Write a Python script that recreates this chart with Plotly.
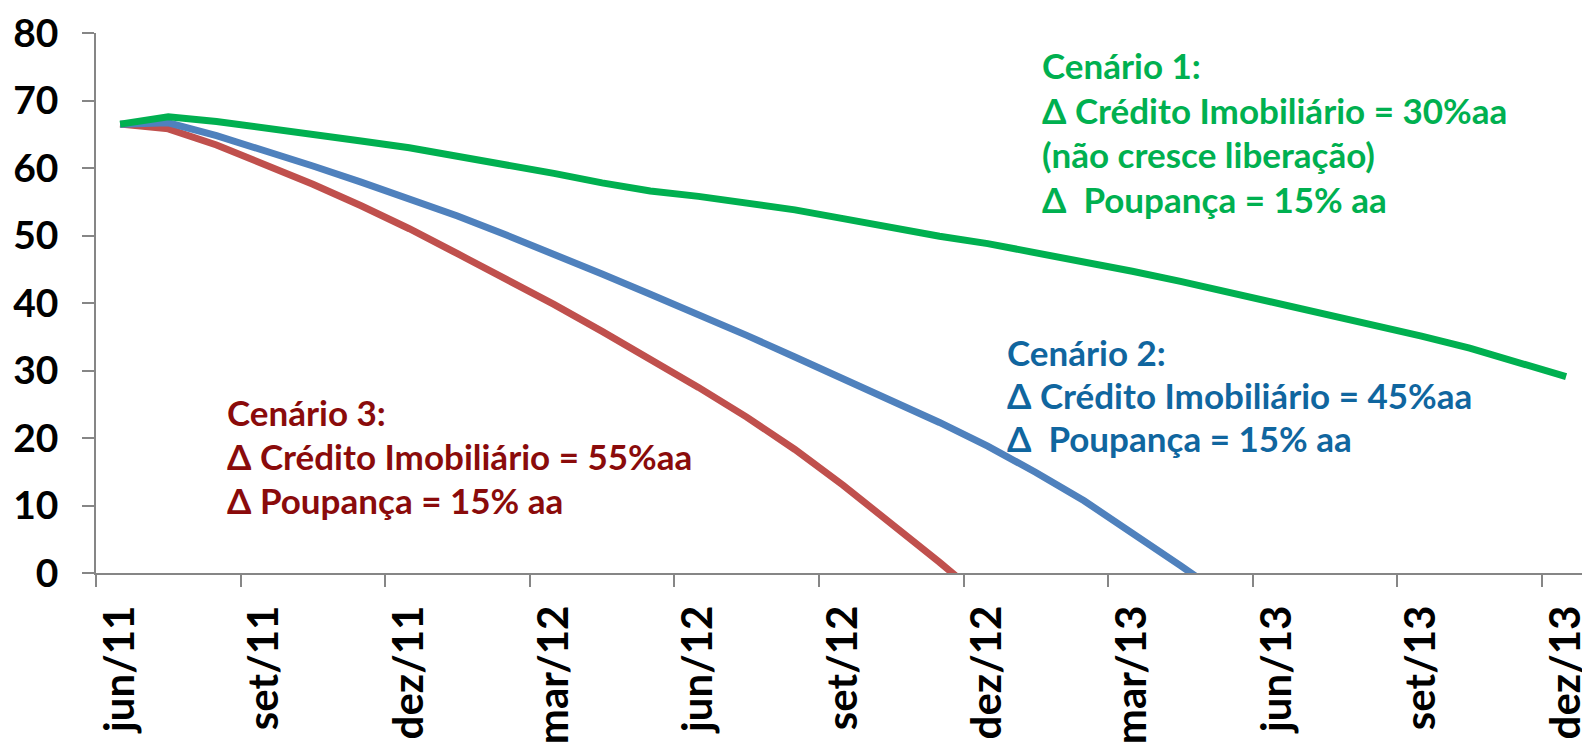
import plotly.graph_objects as go

# Monthly categories, jun/11 .. dez/13
months = ["jun/11", "jul/11", "ago/11", "set/11", "out/11", "nov/11", "dez/11",
          "jan/12", "fev/12", "mar/12", "abr/12", "mai/12", "jun/12", "jul/12",
          "ago/12", "set/12", "out/12", "nov/12", "dez/12", "jan/13", "fev/13",
          "mar/13", "abr/13", "mai/13", "jun/13", "jul/13", "ago/13", "set/13",
          "out/13", "nov/13", "dez/13"]

# Scenario series (values below zero are clipped by the axis range)
cenario1 = [66.5, 67.6, 66.9, 66.0, 65.0, 64.0, 63.0, 61.8, 60.5, 59.2, 57.8,
            56.6, 55.8, 54.9, 53.8, 52.5, 51.1, 49.9, 48.8, 47.5, 46.1, 44.7,
            43.2, 41.6, 40.0, 38.4, 36.8, 35.1, 33.3, 31.3, 29.1]
cenario2 = [66.5, 66.7, 64.8, 62.6, 60.3, 57.9, 55.4, 52.9, 50.1, 47.3, 44.3,
            41.3, 38.3, 35.2, 32.0, 28.8, 25.6, 22.3, 18.8, 14.9, 10.7, 6.0,
            1.1, -3.9]
cenario3 = [66.5, 65.8, 63.4, 60.6, 57.6, 54.4, 51.0, 47.3, 43.6, 39.8, 35.8,
            31.7, 27.5, 23.1, 18.3, 13.0, 7.4, 1.6, -4.4]

y_ticks = [0, 10, 20, 30, 40, 50, 60, 70, 80]
label_step = 3

# Scenario text blocks
texto1 = ["Cenário 1:", "Δ Crédito Imobiliário = 30%aa",
          "(não cresce liberação)", "Δ\u00a0 Poupança = 15% aa"]
texto2 = ["Cenário 2:", "Δ Crédito Imobiliário = 45%aa",
          "Δ\u00a0 Poupança = 15% aa"]
texto3 = ["Cenário 3:", "Δ Crédito Imobiliário = 55%aa",
          "Δ Poupança = 15% aa"]

GREEN = "#00B050"
BLUE_LINE = "#4F81BD"
RED_LINE = "#C0504D"
BLUE_TEXT = "#10669F"
RED_TEXT = "#8A0B0B"
AXIS = "#868686"
FONT = "Lato"

W, H = 1582, 747
M_L, M_R, M_T, M_B = 96, 0, 33, 174
PW, PH = W - M_L - M_R, H - M_T - M_B
SLOT = 48.2  # pixel width of one month slot

fig = go.Figure()
for vals, color, name in [(cenario3, RED_LINE, "Cenário 3"),
                          (cenario2, BLUE_LINE, "Cenário 2"),
                          (cenario1, GREEN, "Cenário 1")]:
    fig.add_trace(go.Scatter(
        x=list(range(len(vals))), y=vals, mode="lines", name=name,
        line=dict(color=color, width=7), showlegend=False,
        hoverinfo="skip"))


def block(lines, color, left_px, first_center_px, step_px):
    out = []
    for k, t in enumerate(lines):
        cy = first_center_px + k * step_px
        out.append(dict(
            text=t, xref="paper", yref="paper",
            x=(left_px - M_L) / PW, y=(H - M_B - cy) / PH,
            xanchor="left", yanchor="middle", showarrow=False,
            font=dict(family=FONT, size=35, color=color, weight="bold")))
    return out


annotations = []
annotations += block(texto1, GREEN, 1040, 65, 44.5)
annotations += block(texto2, BLUE_TEXT, 1005, 352, 43)
annotations += block(texto3, RED_TEXT, 225, 412, 44)

tick_idx = list(range(0, len(months), label_step))
bounds = [i - 0.5 for i in range(0, len(months), label_step)]

fig.update_layout(
    width=W, height=H,
    margin=dict(l=M_L, r=M_R, t=M_T, b=M_B, pad=0),
    paper_bgcolor="white", plot_bgcolor="white",
    annotations=annotations,
    xaxis=dict(
        range=[-0.5, -0.5 + PW / SLOT], automargin=False,
        tickmode="array", tickvals=tick_idx,
        ticktext=[months[i] for i in tick_idx],
        ticks="", tickangle=-90, ticklabelstandoff=14,
        ticklabeloverflow="allow",
        tickfont=dict(family=FONT, size=42, color="black", weight="bold"),
        showline=True, linecolor=AXIS, linewidth=1.5,
        showgrid=False, zeroline=False,
        minor=dict(tickmode="array", tickvals=bounds, ticks="outside",
                   ticklen=12, tickwidth=1.5, tickcolor=AXIS, showgrid=False),
    ),
    yaxis=dict(
        range=[0, 80], tickmode="array", tickvals=y_ticks, automargin=False,
        ticks="outside", ticklen=12, tickwidth=1.5, tickcolor=AXIS,
        ticklabelstandoff=16,
        tickfont=dict(family=FONT, size=39, color="black", weight="bold"),
        showline=True, linecolor=AXIS, linewidth=1.5,
        showgrid=False, zeroline=False,
    ),
)

fig.write_html("out.html")
